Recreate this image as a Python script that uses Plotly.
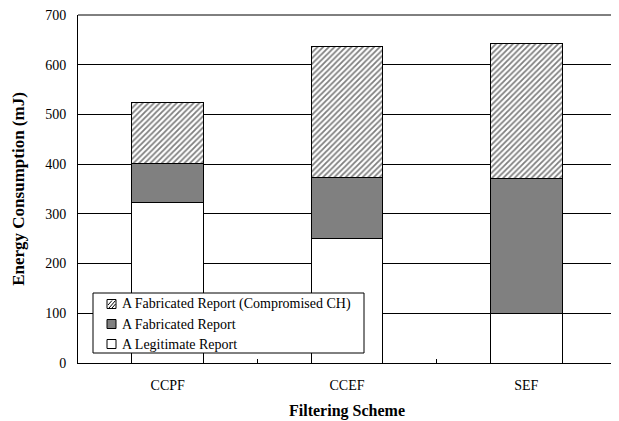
import plotly.graph_objects as go

categories = ["CCPF", "CCEF", "SEF"]
legit = [322, 250, 100]
fabricated = [80, 124, 272]
fabricated_ch = [121, 262, 270]
series_names = ["A Legitimate Report", "A Fabricated Report",
                "A Fabricated Report (Compromised CH)"]

FONT = "Times New Roman, Liberation Serif, DejaVu Serif, serif"

# page body has an 8px margin: figure is sized/offset to compensate
W, H = 611, 413
ML, MR, MT, MB = 70, 3, 7, 58
OFF = 8  # body margin offset in the page


def px(xp):  # page x pixel -> paper x
    return (xp - OFF - ML) / (W - ML - MR)


def py(yp):  # page y pixel -> paper y
    return 1 - (yp - OFF - MT) / (H - MT - MB)


fig = go.Figure()
fig.add_trace(go.Bar(
    x=categories, y=legit, name=series_names[0],
    marker=dict(color="white", line=dict(color="black", width=1)),
))
fig.add_trace(go.Bar(
    x=categories, y=fabricated, name=series_names[1],
    marker=dict(color="#808080", line=dict(color="black", width=1)),
))
fig.add_trace(go.Bar(
    x=categories, y=fabricated_ch, name=series_names[2],
    marker=dict(color="white", line=dict(color="black", width=1),
                pattern=dict(shape="/", size=4, solidity=0.45,
                             fgcolor="black", bgcolor="white", fillmode="overlay")),
))

shapes = [dict(type="line", xref="x domain", yref="y domain",
               x0=0, x1=1, y0=1, y1=1, line=dict(color="black", width=1),
               layer="below")]
annotations = []

# custom legend (box, symbols, labels)
shapes.append(dict(type="rect", xref="paper", yref="paper",
                   x0=px(93), x1=px(364), y0=py(293), y1=py(353),
                   fillcolor="white", line=dict(color="black", width=1), layer="above"))
rows = [(304, series_names[2], "white"), (324, series_names[1], "#808080"),
        (344, series_names[0], "white")]
for i, (yc, name, col) in enumerate(rows):
    shapes.append(dict(type="rect", xref="paper", yref="paper",
                       x0=px(107), x1=px(116), y0=py(yc - 4.5), y1=py(yc + 4.5),
                       fillcolor=col, line=dict(color="black", width=1), layer="above"))
    if i == 0:
        for a, b in [((108, yc + 1), (112, yc - 3.5)), ((109, yc + 4), (115.5, yc - 3.5)),
                     ((112, yc + 4), (115.5, yc))]:
            shapes.append(dict(type="line", xref="paper", yref="paper",
                               x0=px(a[0]), y0=py(a[1]), x1=px(b[0]), y1=py(b[1]),
                               line=dict(color="black", width=1), layer="above"))
    annotations.append(dict(xref="paper", yref="paper", x=px(120), y=py(yc),
                            xanchor="left", yanchor="middle", showarrow=False,
                            text=name, font=dict(family=FONT, size=14, color="black")))

fig.update_layout(
    width=W, height=H,
    margin=dict(l=ML, r=MR, t=MT, b=MB),
    barmode="stack", bargap=0.6,
    plot_bgcolor="white", paper_bgcolor="white",
    font=dict(family=FONT, size=14, color="black"),
    showlegend=False,
    xaxis=dict(
        showline=True, linecolor="black", linewidth=1,
        ticks="inside", ticklen=4, tickcolor="black", tickson="boundaries",
        ticklabelstandoff=9,
        tickfont=dict(family=FONT, size=14),
        title=dict(text="<b>Filtering Scheme</b>", font=dict(family=FONT, size=16), standoff=13),
        showgrid=False, automargin=False,
    ),
    yaxis=dict(
        range=[0, 700], dtick=100,
        showline=True, linecolor="black", linewidth=1,
        showgrid=True, gridcolor="black", gridwidth=1,
        ticks="", ticklabelstandoff=8, ticklabeloverflow="allow",
        tickfont=dict(family=FONT, size=14),
        title=dict(text="<b>Energy Consumption (mJ)</b>", font=dict(family=FONT, size=17), standoff=16),
        zeroline=False, automargin=False,
    ),
    shapes=shapes,
    annotations=annotations,
)

fig.write_html("out.html")
